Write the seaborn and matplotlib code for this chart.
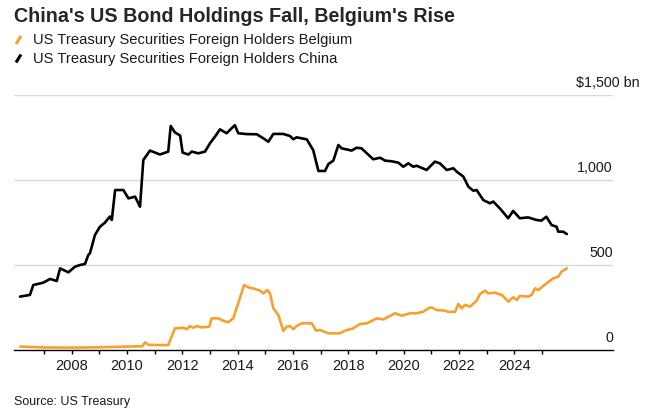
import matplotlib
matplotlib.use("Agg")
import matplotlib.pyplot as plt
import matplotlib.transforms as mtransforms
from matplotlib.lines import Line2D
import numpy as np
import pandas as pd
import seaborn as sns

# ---------------- data ----------------
china_years = [2006.13, 2006.49, 2006.61, 2006.97, 2007.22, 2007.46, 2007.58, 2007.88,
               2008.12, 2008.30, 2008.48, 2008.60, 2008.66, 2008.84, 2009.02, 2009.20,
               2009.38, 2009.45, 2009.57, 2009.87, 2010.05, 2010.29, 2010.47, 2010.59,
               2010.83, 2011.19, 2011.49, 2011.58, 2011.73, 2011.92, 2012.01, 2012.22,
               2012.34, 2012.58, 2012.82, 2013.00, 2013.18, 2013.36, 2013.60, 2013.78,
               2013.90, 2014.02, 2014.33, 2014.69, 2014.93, 2015.11, 2015.29, 2015.65,
               2015.89, 2016.01, 2016.13, 2016.50, 2016.73, 2016.92, 2017.16, 2017.28,
               2017.46, 2017.64, 2017.76, 2017.94, 2018.12, 2018.30, 2018.48, 2018.90,
               2019.15, 2019.33, 2019.57, 2019.81, 2019.99, 2020.17, 2020.35, 2020.47,
               2020.83, 2021.13, 2021.31, 2021.56, 2021.80, 2021.92, 2022.16, 2022.34,
               2022.52, 2022.64, 2022.88, 2023.12, 2023.24, 2023.48, 2023.78, 2023.96,
               2024.20, 2024.50, 2024.80, 2024.98, 2025.16, 2025.35, 2025.53, 2025.59,
               2025.77, 2025.90]
china_values = [314, 324, 382, 396, 418, 406, 480, 457,
                490, 500, 506, 559, 569, 676, 725, 749,
                785, 765, 941, 941, 892, 902, 843, 1118,
                1173, 1150, 1167, 1318, 1280, 1262, 1161, 1150,
                1167, 1157, 1167, 1216, 1255, 1298, 1275, 1304,
                1322, 1275, 1270, 1269, 1245, 1225, 1271, 1271,
                1259, 1240, 1251, 1239, 1176, 1053, 1053, 1094,
                1114, 1206, 1186, 1180, 1173, 1190, 1186, 1122,
                1131, 1114, 1110, 1102, 1078, 1098, 1078, 1084,
                1059, 1108, 1098, 1059, 1069, 1049, 1020, 961,
                937, 941, 882, 863, 873, 833, 775, 818,
                775, 780, 765, 761, 784, 735, 725, 696,
                696, 682]

belgium_years = [2006.14, 2007.00, 2008.00, 2009.00, 2010.00, 2010.55, 2010.65, 2010.78,
                 2011.19, 2011.49, 2011.62, 2011.73, 2012.03, 2012.16, 2012.28, 2012.40,
                 2012.52, 2012.70, 2012.97, 2013.06, 2013.30, 2013.48, 2013.66, 2013.84,
                 2014.02, 2014.23, 2014.38, 2014.63, 2014.81, 2014.93, 2015.07, 2015.17,
                 2015.29, 2015.47, 2015.65, 2015.77, 2015.89, 2016.01, 2016.13, 2016.32,
                 2016.68, 2016.83, 2016.98, 2017.28, 2017.70, 2017.88, 2018.18, 2018.42,
                 2018.67, 2019.03, 2019.27, 2019.69, 2019.93, 2020.23, 2020.47, 2020.71,
                 2020.89, 2021.01, 2021.20, 2021.50, 2021.62, 2021.86, 2021.98, 2022.10,
                 2022.22, 2022.40, 2022.64, 2022.76, 2022.94, 2023.06, 2023.30, 2023.55,
                 2023.79, 2023.96, 2024.09, 2024.20, 2024.51, 2024.63, 2024.75, 2024.87,
                 2025.17, 2025.41, 2025.59, 2025.71, 2025.90]
belgium_values = [20, 15, 14, 16, 20, 22, 45, 30,
                  29, 29, 82, 127, 131, 122, 141, 131,
                  141, 133, 137, 186, 186, 172, 163, 186,
                  275, 382, 369, 359, 349, 333, 353, 333,
                  245, 206, 112, 137, 141, 122, 141, 157,
                  157, 114, 118, 98, 98, 114, 127, 153,
                  157, 186, 180, 216, 202, 216, 216, 225,
                  245, 251, 235, 231, 224, 225, 271, 245,
                  265, 255, 290, 329, 349, 333, 337, 324,
                  284, 310, 294, 318, 314, 324, 363, 353,
                  392, 422, 431, 461, 480]

series_names = ["US Treasury Securities Foreign Holders Belgium",
                "US Treasury Securities Foreign Holders China"]
series_colors = ["#F6A02E", "#000000"]
y_ticks = [0, 500, 1000, 1500]
y_tick_labels = ["0", "500", "1,000", "$1,500 bn"]
x_label_years = list(range(2008, 2025, 2))
x_minor_years = list(range(2007, 2026))
title = "China's US Bond Holdings Fall, Belgium's Rise"
source = "Source: US Treasury"

# ---------------- figure ----------------
sns.set_style("white")
plt.rcParams['font.family'] = ['Liberation Sans', 'DejaVu Sans']

W, H = 646, 418
fig = plt.figure(figsize=(W / 100, H / 100), dpi=100)
ax = fig.add_axes([14 / W, 1 - 350 / H, (613 - 14) / W, (350 - 95) / H])

df = pd.concat([
    pd.DataFrame({"year": belgium_years, "value": belgium_values, "series": series_names[0]}),
    pd.DataFrame({"year": china_years, "value": china_values, "series": series_names[1]}),
])
sns.lineplot(data=df, x="year", y="value", hue="series",
             palette=dict(zip(series_names, series_colors)),
             estimator=None, sort=False, legend=False, linewidth=1.9, ax=ax,
             solid_joinstyle="round")

ax.set_xlim(2005.914, 2027.57)
ax.set_ylim(0, 1500)
ax.set_xlabel("")
ax.set_ylabel("")

for s in ["top", "left", "right"]:
    ax.spines[s].set_visible(False)
ax.spines["bottom"].set_color("#000000")
ax.spines["bottom"].set_linewidth(1.0)
ax.spines["bottom"].set_zorder(1)

ax.set_yticks(y_ticks)
ax.set_yticklabels([])
ax.tick_params(axis="y", left=False, right=False, length=0)
for v in y_ticks[1:]:
    ax.axhline(v, color="#d9d9d9", lw=1.0, zorder=0)

# right-hand value labels, sitting above their gridlines
lab_tr = mtransforms.offset_copy(ax.get_yaxis_transform(), fig=fig, x=0, y=12, units="dots")
for v, lab in zip(y_ticks, y_tick_labels):
    if lab.startswith("$"):
        tr = mtransforms.offset_copy(ax.get_yaxis_transform(), fig=fig, x=27, y=12, units="dots")
        ax.text(1.0, v, lab, transform=tr, ha="right", va="center", fontsize=10.3, color="#1a1a1a")
    else:
        ax.text(1.0, v, lab, transform=lab_tr, ha="right", va="center", fontsize=10.3, color="#1a1a1a")

ax.set_xticks(x_label_years)
ax.set_xticklabels([str(y) for y in x_label_years])
ax.set_xticks(x_minor_years, minor=True)
ax.tick_params(axis="x", which="both", bottom=True, direction="out", length=3,
               width=1, color="#000000", labelsize=10.5, pad=3.5, labelcolor="#1a1a1a")

# title, legend, source
fig.text(14 / W, 1 - 16 / H, title, fontsize=14.2, fontweight="bold", va="center", ha="left")
for i, (name, col) in enumerate(zip(series_names, series_colors)):
    yc = 40 + i * 18.5
    fig.add_artist(Line2D([16 / W, 21 / W], [1 - (yc + 4) / H, 1 - (yc - 4) / H],
                          color=col, lw=2.2, transform=fig.transFigure, solid_capstyle="butt"))
    fig.text(33 / W, 1 - yc / H, name, fontsize=10.6, va="center", ha="left", color="#1a1a1a")
fig.text(14 / W, 1 - 402 / H, source, fontsize=9, va="center", ha="left", color="#1a1a1a")

fig.savefig("out.png", dpi=100)
